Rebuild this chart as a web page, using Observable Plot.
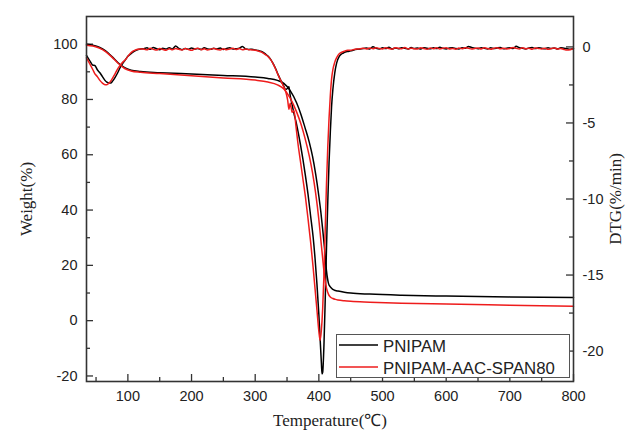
<!DOCTYPE html>
<html>
<head>
<meta charset="utf-8">
<script src="https://cdn.jsdelivr.net/npm/d3@7"></script>
<script src="https://cdn.jsdelivr.net/npm/@observablehq/plot@0.6"></script>
<style>
  html, body { margin: 0; padding: 0; background: #fff; }
  #chart { width: 626px; height: 432px; }
</style>
</head>
<body>
<div id="chart"></div>
<script>
// ---------- data ----------
const seriesNames = ["PNIPAM", "PNIPAM-AAC-SPAN80"];

// TG curves (left axis, Weight %)
const tgTemp = [35,45,55,65,75,85,95,105,120,150,200,250,300,320,335,345,355,365,372,378,385,390,395,400,403,406,409,412,415,418,422,426,430,440,450,480,530,600,700,800];
const tgPNIPAM = [100.0,99.6,98.9,97.6,95.5,93.2,91.5,90.6,90.1,89.7,89.2,88.7,88.1,87.6,86.9,85.8,83.2,78.8,74.5,70.0,64.5,59.5,53.0,45.0,39.5,33.0,26.0,18.0,13.6,12.2,11.3,10.9,10.7,10.3,10.0,9.6,9.2,8.9,8.6,8.4];
const tgCopolymer = [99.6,99.3,98.6,97.3,95.3,93.0,91.2,90.3,89.8,89.4,88.6,87.8,87.0,86.3,85.3,83.8,80.5,75.5,71.0,66.2,59.5,53.5,46.0,36.5,29.5,22.5,16.0,11.8,9.6,8.6,8.0,7.7,7.5,7.2,7.0,6.7,6.3,6.0,5.6,5.2];

// DTG curves (right axis, %/min)
const dtgTemp = [
  35,40,45,48,52,56,60,64,67,70,73,76,80,84,88,92,96,100,104,108,112,116,120,
  125,130,135,140,145,150,155,160,165,170,175,180,185,190,195,200,205,210,215,220,
  225,230,235,240,245,250,255,260,265,270,275,280,285,290,295,
  300,305,310,316,320,324,328,332,336,340,344,348,351,353,355,358,361,364,367,371,375,379,383,387,391,394,397,400,402,404,405,406,408,410,412,414,416,418,420,422,425,428,432,436,440,445,
  450,455,460,465,470,475,480,485,490,495,500,505,510,515,520,525,530,535,540,545,
  550,555,560,565,570,575,580,585,590,595,600,605,610,615,620,625,630,635,640,645,
  650,655,660,665,670,675,680,685,690,695,700,705,710,715,720,725,730,735,740,745,
  750,755,760,765,770,775,780,785,790,795,800
];
const dtgPNIPAM = [
  -0.55,-0.9,-1.2,-1.22,-1.5,-1.7,-1.95,-2.2,-2.32,-2.38,-2.38,-2.25,-2.0,-1.7,-1.35,-1.08,-0.85,-0.62,-0.48,-0.34,-0.24,-0.17,-0.13,
  -0.12,-0.06,-0.16,-0.04,-0.12,-0.18,-0.08,-0.14,-0.05,-0.13,0.06,-0.10,-0.18,-0.11,-0.15,-0.07,-0.14,-0.10,-0.17,-0.06,
  -0.13,-0.16,-0.08,-0.14,-0.07,-0.17,-0.10,-0.05,-0.14,-0.12,-0.09,0.03,-0.14,-0.17,-0.15,
  -0.2,-0.24,-0.3,-0.46,-0.6,-0.8,-1.08,-1.42,-1.82,-2.18,-2.5,-2.8,-2.72,-2.62,-3.2,-3.8,-4.4,-4.9,-5.5,-6.4,-7.4,-8.5,-9.7,-11.1,-12.5,-13.9,-15.6,-17.6,-19.2,-20.8,-21.5,-21.4,-19.6,-16.6,-13.2,-10.2,-7.6,-5.6,-3.9,-2.8,-1.7,-1.05,-0.62,-0.45,-0.36,-0.3,
  -0.26,-0.20,-0.16,-0.13,-0.11,-0.07,-0.13,0.01,-0.09,-0.14,-0.06,-0.11,-0.03,-0.13,-0.07,-0.12,-0.05,-0.09,-0.14,-0.04,
  -0.11,-0.07,-0.13,-0.05,-0.09,-0.12,-0.06,-0.11,-0.03,-0.09,-0.13,-0.07,-0.05,-0.11,-0.14,-0.06,-0.09,0.03,-0.04,-0.08,
  -0.12,-0.06,-0.09,-0.13,-0.05,-0.11,-0.07,-0.04,-0.12,-0.09,-0.06,-0.11,0.04,-0.05,-0.09,-0.13,-0.07,-0.04,-0.11,-0.06,
  -0.09,-0.12,-0.05,-0.11,-0.07,-0.13,-0.06,-0.09,-0.12,-0.15,-0.10
];
const dtgCopolymer = [
  -0.72,-1.1,-1.5,-1.75,-1.95,-2.2,-2.38,-2.48,-2.48,-2.4,-2.25,-2.05,-1.75,-1.45,-1.2,-1.0,-0.85,-0.62,-0.42,-0.28,-0.2,-0.15,-0.13,
  -0.14,-0.19,-0.09,-0.16,-0.21,-0.11,-0.17,-0.22,-0.12,-0.18,-0.10,-0.16,-0.20,-0.11,-0.17,-0.22,-0.13,-0.09,-0.18,-0.12,
  -0.20,-0.15,-0.10,-0.17,-0.20,-0.12,-0.18,-0.13,-0.09,-0.17,-0.11,-0.19,-0.14,-0.18,-0.20,
  -0.22,-0.27,-0.34,-0.5,-0.63,-0.82,-1.1,-1.45,-1.85,-2.2,-2.55,-2.95,-3.5,-4.1,-3.7,-4.3,-4.2,-5.2,-6.3,-7.5,-8.7,-9.9,-11.3,-12.8,-14.5,-15.9,-17.3,-18.7,-19.3,-18.6,-18.0,-17.2,-15.0,-12.0,-9.0,-6.6,-4.7,-3.2,-2.1,-1.5,-1.0,-0.7,-0.45,-0.35,-0.28,-0.22,
  -0.22,-0.17,-0.14,-0.12,-0.09,-0.14,-0.07,-0.12,-0.05,-0.11,-0.13,-0.06,-0.11,-0.15,-0.05,-0.09,-0.12,-0.04,-0.13,-0.08,
  -0.12,-0.14,-0.06,-0.11,-0.16,-0.07,-0.12,-0.05,-0.13,-0.09,-0.06,-0.13,-0.10,-0.15,-0.07,-0.12,-0.05,-0.09,-0.14,-0.10,
  -0.07,-0.13,-0.06,-0.11,-0.15,-0.09,-0.05,-0.12,-0.08,-0.13,-0.10,-0.04,-0.09,-0.14,-0.06,-0.12,-0.09,-0.15,-0.07,-0.10,
  -0.13,-0.09,-0.16,-0.11,-0.07,-0.14,-0.10,-0.17,-0.21,-0.18,-0.12
];

// ticks
const xTicks = [100,200,300,400,500,600,700,800];
const xMinorTicks = [50,150,250,350,450,550,650,750];
const weightTicks = [-20,0,20,40,60,80,100];
const weightMinorTicks = [-10,10,30,50,70,90];
const dtgTicks = [0,-5,-10,-15,-20];
const dtgMinorTicks = [-2.5,-7.5,-12.5,-17.5];

const xLabel = "Temperature(℃)";
const yLabel = "Weight(%)";
const y2Label = "DTG(%/min)";

// ---------- layout ----------
const W = 626, H = 432;
const mL = 86, mR = 53, mT = 16, mB = 51;
const xDomain = [35, 800];
const yDomain = [-22, 110];
const dtgDomain = [-22, 2];
const colors = ["#000000", "#ee1c1c"];

const toY = d => yDomain[0] + (d - dtgDomain[0]) * (yDomain[1] - yDomain[0]) / (dtgDomain[1] - dtgDomain[0]);
const fromY = v => dtgDomain[0] + (v - yDomain[0]) * (dtgDomain[1] - dtgDomain[0]) / (yDomain[1] - yDomain[0]);

const kx = (W - mL - mR) / (xDomain[1] - xDomain[0]);
const ky = (H - mT - mB) / (yDomain[1] - yDomain[0]);
const major = 7, minor = 4;

const tgData = tgTemp.map((t, i) => ({t, v: tgPNIPAM[i], s: seriesNames[0]}));
const tgData2 = tgTemp.map((t, i) => ({t, v: tgCopolymer[i], s: seriesNames[1]}));
const dtgData = dtgTemp.map((t, i) => ({t, v: toY(dtgPNIPAM[i]), s: seriesNames[0]}));
const dtgData2 = dtgTemp.map((t, i) => ({t, v: toY(dtgCopolymer[i]), s: seriesNames[1]}));

const sans = "'Liberation Sans', Arial, sans-serif";
const serif = "'Liberation Serif', 'Times New Roman', serif";

const chart = Plot.plot({
  width: W, height: H,
  marginLeft: mL, marginRight: mR, marginTop: mT, marginBottom: mB,
  style: {fontFamily: sans, fontSize: "14.5px", color: "#222", background: "#fff", overflow: "visible"},
  x: {domain: xDomain},
  y: {domain: yDomain},
  marks: [
    Plot.axisX({ticks: xTicks, tickSize: 0, tickPadding: 9, tickFormat: d => String(d), label: null, fontSize: 14.5}),
    Plot.axisY({anchor: "left", ticks: weightTicks, tickSize: 0, tickPadding: 9, tickFormat: d => String(d), label: null, fontSize: 14.5}),
    Plot.axisY({anchor: "right", ticks: dtgTicks.map(toY), tickSize: 0, tickPadding: 9, tickFormat: v => String(Math.round(fromY(v))), label: null, fontSize: 14.5}),
    // inward ticks
    Plot.ruleX(xTicks, {x: d => d, y1: yDomain[0], y2: yDomain[0] + major / ky, stroke: "#333", strokeWidth: 1.3}),
    Plot.ruleX(xMinorTicks, {x: d => d, y1: yDomain[0], y2: yDomain[0] + minor / ky, stroke: "#333", strokeWidth: 1.3}),
    Plot.ruleY(weightTicks, {y: d => d, x1: xDomain[0], x2: xDomain[0] + major / kx, stroke: "#333", strokeWidth: 1.3}),
    Plot.ruleY(weightMinorTicks, {y: d => d, x1: xDomain[0], x2: xDomain[0] + minor / kx, stroke: "#333", strokeWidth: 1.3}),
    Plot.ruleY(dtgTicks.map(toY), {y: d => d, x1: xDomain[1] - major / kx, x2: xDomain[1], stroke: "#333", strokeWidth: 1.3}),
    Plot.ruleY(dtgMinorTicks.map(toY), {y: d => d, x1: xDomain[1] - minor / kx, x2: xDomain[1], stroke: "#333", strokeWidth: 1.3}),
    // curves
    Plot.line(tgData, {x: "t", y: "v", stroke: colors[0], strokeWidth: 1.5, curve: "monotone-x"}),
    Plot.line(dtgData, {x: "t", y: "v", stroke: colors[0], strokeWidth: 1.5, curve: "monotone-x"}),
    Plot.line(tgData2, {x: "t", y: "v", stroke: colors[1], strokeWidth: 1.5, curve: "monotone-x"}),
    Plot.line(dtgData2, {x: "t", y: "v", stroke: colors[1], strokeWidth: 1.5, curve: "monotone-x"}),
    Plot.frame({stroke: "#333", strokeWidth: 1.6}),
    // axis titles
    Plot.text([yLabel], {frameAnchor: "left", dx: -60, rotate: -90, textAnchor: "middle", lineAnchor: "middle", fontSize: 17, fontFamily: serif, fill: "#222"}),
    Plot.text([y2Label], {frameAnchor: "right", dx: 42, rotate: -90, textAnchor: "middle", lineAnchor: "middle", fontSize: 17, fontFamily: serif, fill: "#222"}),
    Plot.text([xLabel], {frameAnchor: "bottom", dy: 39, textAnchor: "middle", lineAnchor: "middle", fontSize: 17, fontFamily: serif, fill: "#222"})
  ]
});

// legend
const svg = d3.select(chart);
const lg = svg.append("g").attr("font-family", sans).attr("font-size", 16.8).attr("fill", "#222").attr("text-anchor", "start");
lg.append("rect").attr("x", 336.5).attr("y", 334.5).attr("width", 233).attr("height", 43)
  .attr("fill", "#fff").attr("stroke", "#555").attr("stroke-width", 1);
seriesNames.forEach((name, i) => {
  const cy = 345 + i * 22;
  lg.append("line").attr("x1", 339).attr("x2", 378).attr("y1", cy).attr("y2", cy)
    .attr("stroke", colors[i]).attr("stroke-width", 1.5);
  lg.append("text").attr("x", 383).attr("y", cy + 6.5).attr("text-anchor", "start").text(name);
});

document.getElementById("chart").appendChild(chart);
</script>
</body>
</html>
